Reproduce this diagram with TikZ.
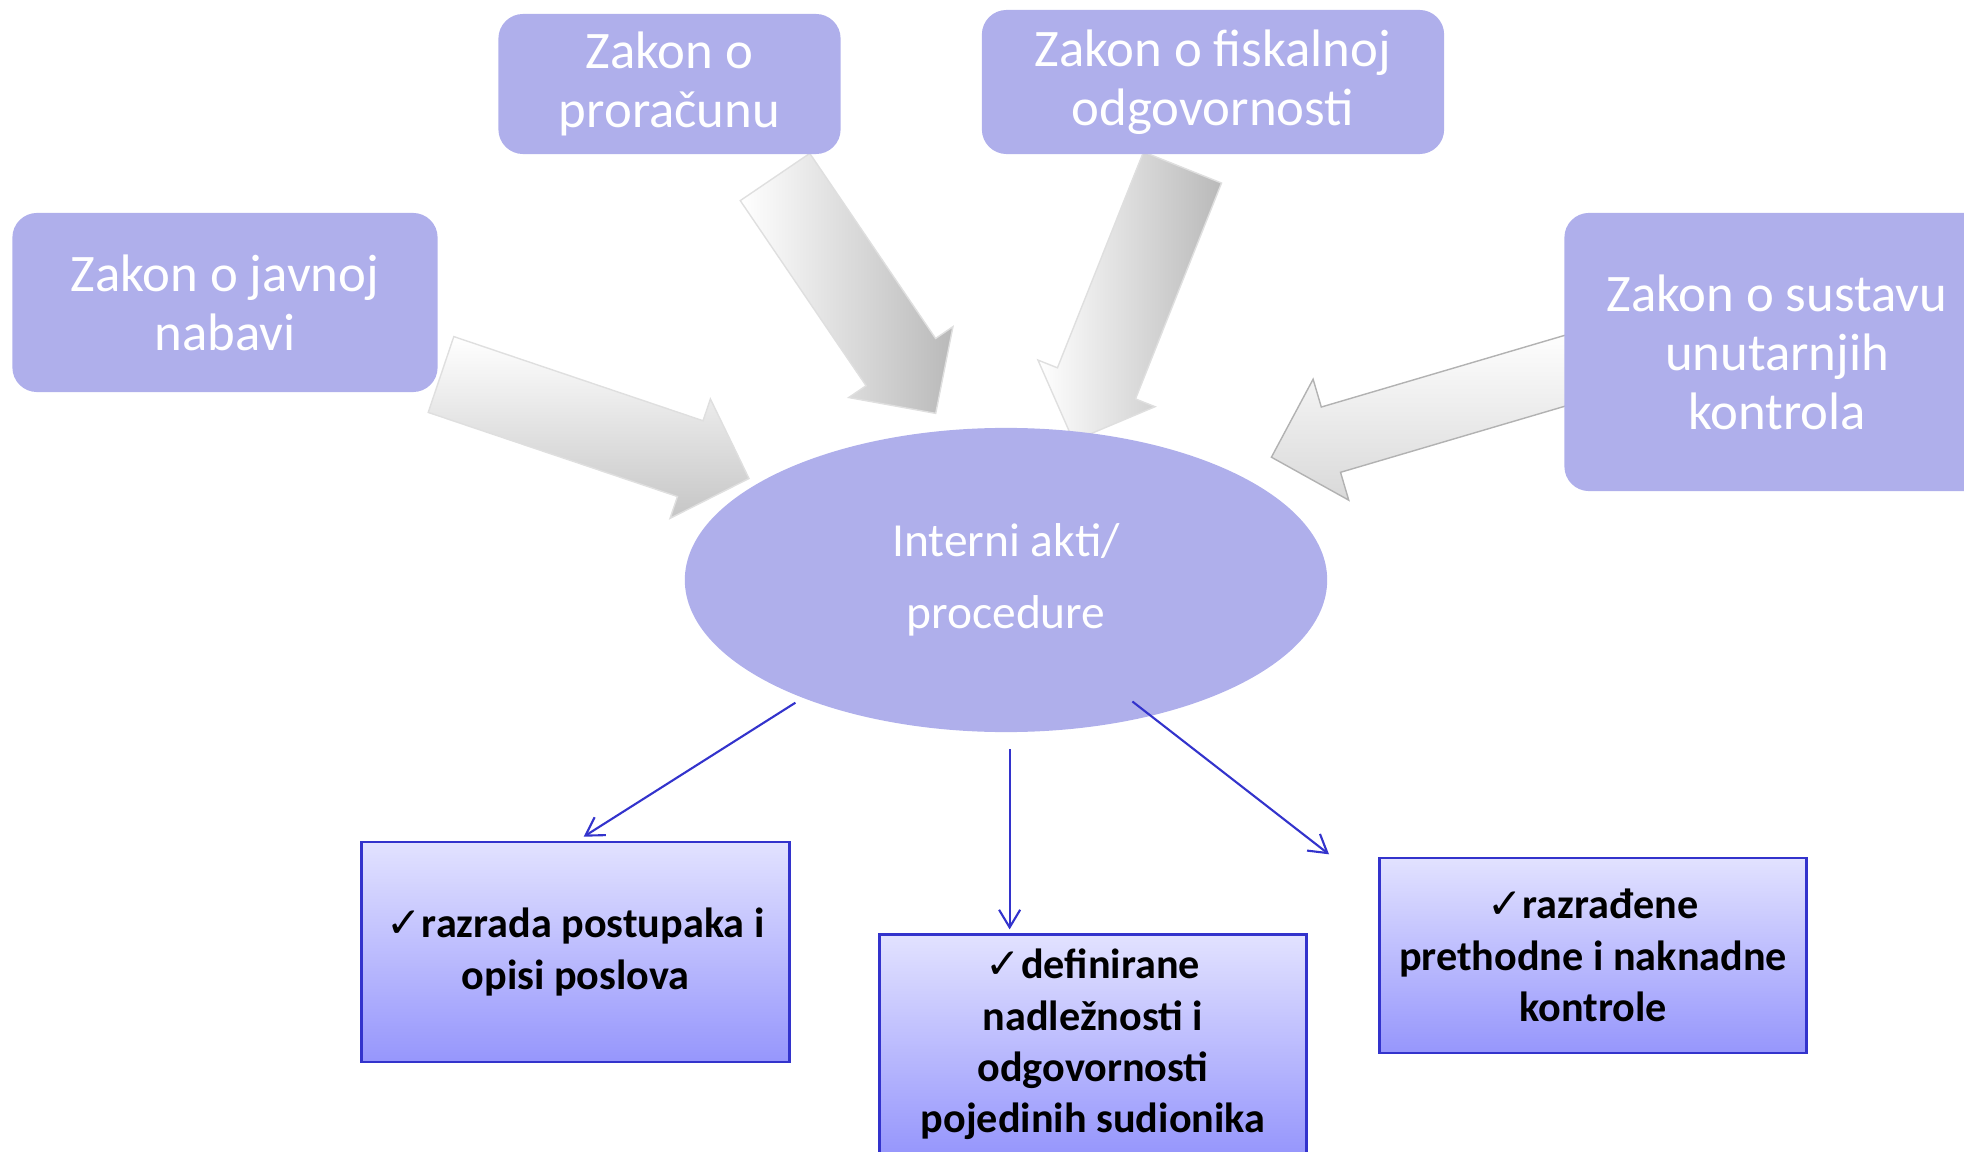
\documentclass[tikz,border=0pt]{standalone}
\usepackage{fontspec}
\setmainfont{Carlito}
\newfontfamily\symfont{DejaVu Sans}
\usetikzlibrary{calc,shapes.geometric,arrows.meta}

\definecolor{lawfill}{RGB}{175,175,235}
\definecolor{boxtop}{RGB}{226,226,255}
\definecolor{boxbot}{RGB}{150,150,252}
\definecolor{lineblue}{RGB}{51,51,204}

\tikzset{
  lawbox/.style={rectangle, rounded corners=7pt, fill=lawfill, text=white, align=center,
    font=\fontsize{15}{16.8}\selectfont},
  outbox/.style={rectangle, draw=lineblue, line width=0.8pt, top color=boxtop, bottom color=boxbot,
    align=center, font=\bfseries\fontsize{12}{14.6}\selectfont, minimum width=4.27cm},
  outarrow/.style={draw=lineblue, line width=0.6pt, -{Straight Barb[length=5pt,width=6pt]}},
  hshade/.style={left color=white, right color=gray!55, draw=gray!25},
  vshade/.style={top color=white, bottom color=gray!45, draw=gray!25},
  bshade/.style={top color=white, bottom color=gray!30, draw=gray!60}
}

\begin{document}
\begin{tikzpicture}[x=0.01cm, y=-0.01cm]
    \useasboundingbox (0,0) rectangle (1964,1152);
    \clip (0,0) rectangle (1964,1152);

    % Big arrows into the procedures
    \coordinate (t1) at (441,374.5);   \coordinate (h1) at (749,478.5);
    \coordinate (t2) at (775,177);     \coordinate (h2) at (935.7,413.4);
    \coordinate (t3) at (1182.5,167.5);\coordinate (h3) at (1073.5,441);
    \coordinate (t4) at (1598,361);    \coordinate (h4) at (1271.4,457.2);
    \foreach \t/\h/\w/\s in {t1/h1/0.4cm/vshade, t2/h2/0.42cm/hshade, t3/h3/0.42cm/hshade, t4/h4/0.34cm/bshade}{
        \coordinate (\h-n) at ($(\h)!0.62cm!(\t)$);
        \shade[\s] ($(\t)!\w!90:(\h)$) -- ($(\h-n)!\w!90:(\h)$) -- ($(\h-n)!0.63cm!90:(\h)$)
            -- (\h) -- ($(\h-n)!0.63cm!-90:(\h)$) -- ($(\h-n)!\w!-90:(\h)$) -- ($(\t)!\w!-90:(\h)$) -- cycle;
    }

    % Laws
    \node[lawbox, minimum width=4.25cm, minimum height=1.79cm] (zjn) at (225,302.5) {Zakon o javnoj\\nabavi};
    \node[lawbox, minimum width=3.42cm, minimum height=1.40cm] (zop) at (669.5,84) {Zakon o\\proračunu};
    \node[lawbox, minimum width=4.62cm, minimum height=1.44cm] (zfo) at (1213,82) {Zakon o fiskalnoj\\odgovornosti};
    \node[lawbox, minimum width=4.25cm, minimum height=2.78cm] (zsuk) at (1777,352) {Zakon o sustavu\\unutarnjih\\kontrola};

    % Internal acts
    \node[ellipse, fill=lawfill, minimum width=6.42cm, minimum height=3.04cm, text=white, align=center,
        font=\fontsize{13.5}{20.4}\selectfont] (ia) at (1006,580) {Interni akti/\\procedure};

    % Outcomes
    \node[outbox, minimum height=2.20cm] (rpp) at (575.5,952) {{\symfont ✓}razrada postupaka i\\opisi poslova};
    \node[outbox, minimum height=2.20cm] (dno) at (1093,1044.5) {{\symfont ✓}definirane\\nadležnosti i\\odgovornosti\\pojedinih sudionika};
    \node[outbox, minimum height=1.95cm] (rpn) at (1593,955.5) {{\symfont ✓}razrađene\\prethodne i naknadne\\kontrole};

    \coordinate (o1s) at (795.4,702.7);  \coordinate (o1e) at (583.7,836.7);
    \coordinate (o2s) at (1009.6,749);   \coordinate (o2e) at (1009.6,929.4);
    \coordinate (o3s) at (1132.4,701.5); \coordinate (o3e) at (1329,854.3);
    \draw[outarrow] (o1s) -- (o1e);
    \draw[outarrow] (o2s) -- (o2e);
    \draw[outarrow] (o3s) -- (o3e);
\end{tikzpicture}
\end{document}
